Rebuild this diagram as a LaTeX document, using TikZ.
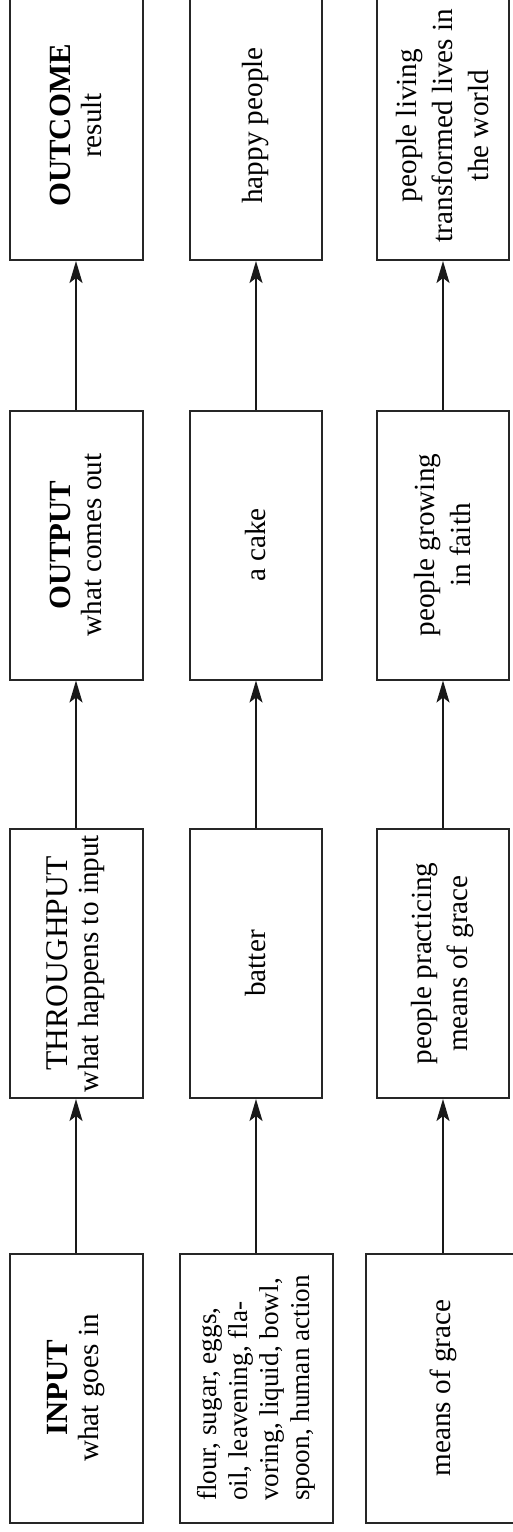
\documentclass[tikz,border=0pt]{standalone}
\usepackage{fontspec}
\setmainfont{Liberation Serif}
\usetikzlibrary{arrows.meta}
\tikzset{
    hdbox/.style={rectangle, draw=black!85, line width=1pt, rotate=90, minimum width=134.5pt, minimum height=66.5pt, inner sep=2pt, align=center, font=\fontsize{14.6}{15.5}\selectfont},
    cakebox/.style={rectangle, draw=black!85, line width=1pt, rotate=90, minimum width=134.5pt, minimum height=66pt, inner sep=2pt, align=center, font=\fontsize{14.6}{15.5}\selectfont},
    gracebox/.style={rectangle, draw=black!85, line width=1pt, rotate=90, minimum width=134.5pt, minimum height=66pt, inner sep=2pt, align=center, font=\fontsize{14.6}{18}\selectfont},
    flow/.style={-{Stealth[length=11pt, width=6.5pt, inset=2.5pt]}, line width=0.9pt, color=black!90}
}

\begin{document}
\begin{tikzpicture}[x=0.5pt, y=-0.5pt]
    \useasboundingbox (0,0) rectangle (513,1532);
    % header column
    \node[hdbox] (in1) at (76,1388) {{\fontsize{15.4}{15.5}\selectfont\bfseries INPUT}\\what goes in};
    \node[hdbox] (thr1) at (76,963.5) {{\fontsize{15.8}{15.5}\selectfont THROUGHPUT}\\what happens to input};
    \node[hdbox] (out1) at (76,545) {{\fontsize{15.4}{15.5}\selectfont\bfseries OUTPUT}\\what comes out};
    \node[hdbox] (res1) at (76,125.5) {{\fontsize{15.4}{15.5}\selectfont\bfseries OUTCOME}\\result};
    % cake column
    \node[cakebox, minimum height=76.5pt, align=left, font=\fontsize{13.6}{15.5}\selectfont] (in2) at (256,1388) {flour, sugar, eggs,\\oil, leavening, fla-\\voring, liquid, bowl,\\spoon, human action};
    \node[cakebox] (thr2) at (256,963.5) {batter};
    \node[cakebox] (out2) at (256,545) {a cake};
    \node[cakebox] (res2) at (256,125.5) {happy people};
    % grace column
    \node[gracebox, minimum height=77pt] (in3) at (443,1388) {means of grace};
    \node[gracebox] (thr3) at (443,963.5) {people practicing\\means of grace};
    \node[gracebox] (out3) at (443,545) {people growing\\in faith};
    \node[gracebox] (res3) at (443,125.5) {people living\\transformed lives in\\the world};
    \draw[flow] (in1) -- (thr1);
    \draw[flow] (thr1) -- (out1);
    \draw[flow] (out1) -- (res1);
    \draw[flow] (in2) -- (thr2);
    \draw[flow] (thr2) -- (out2);
    \draw[flow] (out2) -- (res2);
    \draw[flow] (in3) -- (thr3);
    \draw[flow] (thr3) -- (out3);
    \draw[flow] (out3) -- (res3);
\end{tikzpicture}
\end{document}
